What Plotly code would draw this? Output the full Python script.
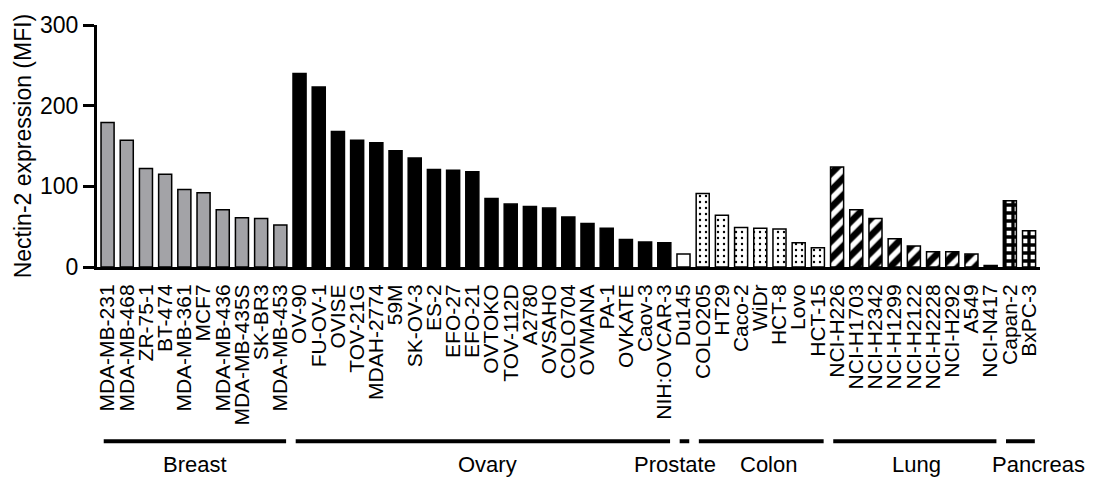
import plotly.graph_objects as go

# Cell lines per tissue, in plotting order
breast_lines = ["MDA-MB-231", "MDA-MB-468", "ZR-75-1", "BT-474", "MDA-MB-361",
                "MCF7", "MDA-MB-436", "MDA-MB-435S", "SK-BR3", "MDA-MB-453"]
breast_mfi = [179, 157, 122, 115, 96, 92, 71, 61, 60, 52]

ovary_lines = ["OV-90", "FU-OV-1", "OVISE", "TOV-21G", "MDAH-2774", "59M", "SK-OV-3",
               "ES-2", "EFO-27", "EFO-21", "OVTOKO", "TOV-112D", "A2780", "OVSAHO",
               "COLO704", "OVMANA", "PA-1", "OVKATE", "Caov-3", "NIH:OVCAR-3"]
ovary_mfi = [240, 223, 168, 157, 154, 144, 135, 121, 120, 118,
             85, 78, 75, 73, 62, 54, 48, 34, 31, 30]

prostate_lines = ["Du145"]
prostate_mfi = [16]

colon_lines = ["COLO205", "HT29", "Caco-2", "WiDr", "HCT-8", "Lovo", "HCT-15"]
colon_mfi = [91, 64, 49, 48, 47, 30, 24]

lung_lines = ["NCI-H226", "NCI-H1703", "NCI-H2342", "NCI-H1299", "NCI-H2122",
              "NCI-H2228", "NCI-H292", "A549", "NCI-N417"]
lung_mfi = [124, 71, 60, 35, 26, 19, 19, 16, 2]

pancreas_lines = ["Capan-2", "BxPC-3"]
pancreas_mfi = [82, 45]

tissue_names = ["Breast", "Ovary", "Prostate", "Colon", "Lung", "Pancreas"]

FONT = "Liberation Sans, Arial, Helvetica, sans-serif"

groups = [
    (breast_lines, breast_mfi, dict(color="#a3a3a7")),
    (ovary_lines, ovary_mfi, dict(color="black")),
    (prostate_lines, prostate_mfi, dict(color="white")),
    (colon_lines, colon_mfi, dict(color="white", pattern=dict(
        shape=".", size=6, solidity=0.12, fgcolor="black", bgcolor="white", fgopacity=1))),
    (lung_lines, lung_mfi, dict(color="white", pattern=dict(
        shape="/", size=12, solidity=0.55, fgcolor="black", bgcolor="white", fgopacity=1))),
    (pancreas_lines, pancreas_mfi, dict(color="white", pattern=dict(
        shape="+", size=8, solidity=0.65, fgcolor="black", bgcolor="white", fgopacity=1))),
]

all_lines = [c for g in groups for c in g[0]]

fig = go.Figure()
for lines, vals, mk in groups:
    fig.add_trace(go.Bar(
        x=lines, y=vals, width=0.68,
        marker=dict(line=dict(color="black", width=1.5), **mk),
        showlegend=False,
    ))

# Tissue brackets under the cell-line labels
label_shift = {"Breast": 0, "Ovary": 5, "Prostate": -9, "Colon": 7, "Lung": 2, "Pancreas": 18}
start = 0
for name, (lines, _, _) in zip(tissue_names, groups):
    end = start + len(lines) - 1
    x0, x1 = start - 0.2, end + 0.3
    fig.add_shape(type="line", xref="x", yref="paper", x0=x0, x1=x1, y0=-0.72, y1=-0.72,
                  line=dict(color="black", width=4))
    fig.add_annotation(x=(x0 + x1) / 2, y=-0.816, xref="x", yref="paper", text=name,
                       showarrow=False, xshift=label_shift[name], yanchor="middle",
                       font=dict(family=FONT, size=22, color="black"))
    start = end + 1

fig.update_layout(
    width=1099, height=491,
    margin=dict(l=97, r=59, t=17, b=224),
    plot_bgcolor="white", paper_bgcolor="white",
    bargap=0.3,
    font=dict(family=FONT, color="black"),
)
fig.update_xaxes(
    type="category", categoryorder="array", categoryarray=all_lines,
    tickmode="linear", tick0=0, dtick=1,
    range=[-0.55, 48.57],
    showline=True, linecolor="black", linewidth=3,
    ticks="", tickangle=-90, ticklabelstandoff=6,
    tickfont=dict(family=FONT, size=21, color="black"),
    showgrid=False, zeroline=False,
)
fig.update_yaxes(
    range=[0, 300], tickvals=[0, 100, 200, 300],
    showline=True, linecolor="black", linewidth=3,
    ticks="outside", ticklen=11, tickwidth=3, tickcolor="black",
    tickfont=dict(family=FONT, size=23, color="black"),
    showgrid=False, zeroline=False,
    title=dict(text="Nectin-2 expression (MFI)", standoff=2,
               font=dict(family=FONT, size=23, color="black")),
)

fig.write_html("out.html")
